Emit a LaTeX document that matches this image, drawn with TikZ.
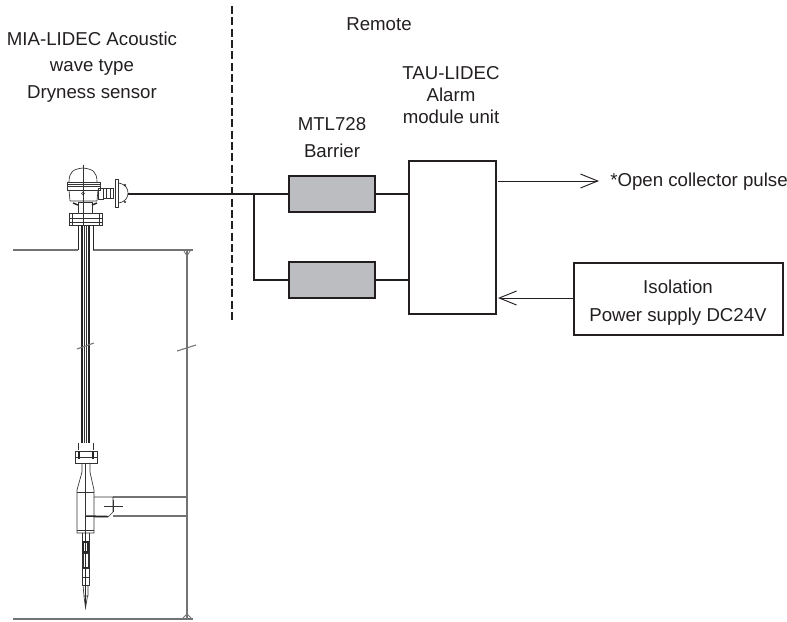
\documentclass[tikz,border=0pt]{standalone}
\usepackage{fontspec}
\setmainfont{Liberation Sans}
\usepackage{xcolor}
\usetikzlibrary{arrows.meta,positioning,calc}
\definecolor{barriergray}{RGB}{187,189,192}
\definecolor{inkgray}{RGB}{35,31,32}
\tikzstyle{arrow} = [inkgray,line width=0.75pt,-{Straight Barb[length=13pt,width=10.5pt,line width=0.7pt]}]
\begin{document}
\begin{tikzpicture}[
    x=0.75pt, y=-0.75pt,
    barrier/.style={rectangle, draw=inkgray, line width=1.3pt, fill=barriergray,
                    minimum width=64.5pt, minimum height=27pt, inner sep=0pt},
    unitbox/.style={rectangle, draw=inkgray, line width=1.3pt, fill=white, inner sep=0pt},
    textlabel/.style={font=\fontsize{14}{#1}\selectfont, text=inkgray, align=center, inner sep=0pt},
    textlabel/.default=20,
    wire/.style={inkgray, line width=1.2pt},
    part/.style={black!80, line width=0.5pt},
    partdark/.style={black!85, line width=1.1pt},
    tank/.style={black!55, line width=1.1pt},
    node distance=36.2pt
]
\useasboundingbox (0,0) rectangle (787,621);
% text
\node[textlabel] (sensorlabel) at (92,67) {MIA-LIDEC Acoustic\\wave type\\Dryness sensor};
\node[textlabel] (remotelabel) at (379,24) {Remote};
\node[textlabel=16.5] (alarmlabel) at (451,95) {TAU-LIDEC\\Alarm\\module unit};
\node[textlabel] (barrierlabel) at (332,137.5) {MTL728\\Barrier};
% boxes
\node[barrier] (b1) at (332,194) {};
\node[barrier, below=of b1] (b2) {};
\node[unitbox, minimum width=65pt, minimum height=114.5pt] (alarm) at (452.5,237.5) {};
\node[unitbox, minimum width=156.75pt, minimum height=54pt] (power) at (678.5,299) {};
\node[textlabel=21] (powerlabel) at (678,303) {Isolation\\Power supply DC24V};
\node[textlabel, anchor=west] (pulse) at (610,182) {*Open collector pulse};
% connectors
\coordinate (head) at (128,194);
\coordinate (branch) at (254,194);
\coordinate (outstart) at (498,181);
\coordinate (outend) at (599,181);
\coordinate (inend) at (498,298);
\coordinate (dashtop) at (232,6);
\coordinate (dashbottom) at (232,323);
\draw[wire] (head) -- (branch) -- (b1.west);
\draw[wire] (branch) |- (b2.west);
\draw[wire] (b1.east) -- (b1.east -| alarm.west);
\draw[wire] (b2.east) -- (b2.east -| alarm.west);
\draw[arrow] (outstart) -- (outend);
\draw[arrow] (inend -| power.west) -- (inend);
\draw[inkgray, line width=0.9pt, dash pattern=on 6pt off 2.5pt] (dashtop) -- (dashbottom);
% tank
\draw[tank] (13,250) -- (78,250) (93,250) -- (193,250);
\draw[tank] (13,619) -- (193,619);
\draw[tank] (187,250) -- (187,619);
\draw[tank, line width=0.6pt] (184,251) -- (187,256) -- (190,251);
\draw[tank, line width=0.6pt] (183,618) -- (187,614) -- (191,618);
\draw[tank] (113,497) -- (186,497) (113,516) -- (186,516);
% head of the sensor
\draw[part] (69,182) .. controls (69,172) and (73,169) .. (83,168) .. controls (93,169) and (97,172) .. (97,182);
\draw[part] (67,182) rectangle (100,190);
\draw[part] (67,184) -- (100,184) (67,186) -- (100,186);
\draw[part] (69,190) -- (70,201) (98,190) -- (97,201) (70,201) -- (97,201);
\draw[part] (83,165) -- (83,225);
\draw[part] (83,193.5) circle (1.5);
\draw[part] (78,202) rectangle (92,213);
\draw[partdark] (73,203) -- (78,205) (97,203) -- (92,205);
\draw[part] (69,213) rectangle (102,225);
\draw[part] (69,218) -- (102,218) (69,222) -- (102,222);
\draw[part] (72,213) -- (72,226) (99,213) -- (99,226);
% side connector of the sensor
\draw[part] (98,188) rectangle (103,199);
\draw[part] (103,188) rectangle (113,198);
\draw[part] (106,188) -- (106,198) (110,188) -- (110,198);
\draw[part] (115,179) rectangle (118,207);
\draw[part] (118,183) .. controls (126,184) and (128,189) .. (128,193) .. controls (128,197) and (126,202) .. (118,203);
\fill[inkgray] (125,185) circle (1.2) (125,202) circle (1.2);
% stem of the sensor
\draw[partdark, line width=0.7pt] (78,225) -- (78,250) (93,225) -- (93,250);
\draw[partdark, line width=1.5pt] (81.7,225) -- (81.7,443);
\draw[partdark, line width=1.5pt] (89,225) -- (89,443);
\draw[part] (84.5,225) -- (84.5,443);
\draw[part] (86.5,225) -- (86.5,443);
\draw[tank, line width=0.8pt] (77,349) -- (94,343);
\draw[tank, line width=0.8pt] (177,351) -- (196,345);
% lower flange
\draw[part] (78,443) -- (78,450) (93,443) -- (93,450);
\draw[part] (75,451) rectangle (97,463);
\draw[part] (75,457) -- (97,457);
\draw[partdark] (79,451) -- (79,459) (93,451) -- (93,459);
% body of the sensor
\draw[part] (82,463) -- (82,472) -- (77,490) -- (77,533) -- (94,533) -- (94,490) -- (90,472) -- (90,463);
\draw[part] (77,492) -- (94,492);
\draw[part] (77,530) -- (94,530);
\draw[part] (85.5,463) -- (85.5,540);
% bracket
\draw[part] (94,497) -- (113,497) -- (113,512) -- (108,517) -- (94,517);
\draw[partdark] (86,516) -- (108,516.5);
\draw[part] (104,506) -- (123,506) (113,500) -- (113,512);
% probe
\draw[part] (82,533) -- (82,568) (89,533) -- (89,568);
\draw[partdark] (83,542) rectangle (88,552);
\draw[part] (83,553) rectangle (88,568);
\draw[partdark] (82,568) -- (89,568);
\draw[part] (82,568) rectangle (89,577);
\draw[part] (82,577) rectangle (89,585);
\draw[part] (83,585) -- (84,596) -- (88,596) -- (88,585);
\draw[partdark, line width=0.8pt] (85.5,533) -- (85.5,608);
\draw[part] (84,596) -- (85.5,608) -- (87.5,596);
\end{tikzpicture}
\end{document}
